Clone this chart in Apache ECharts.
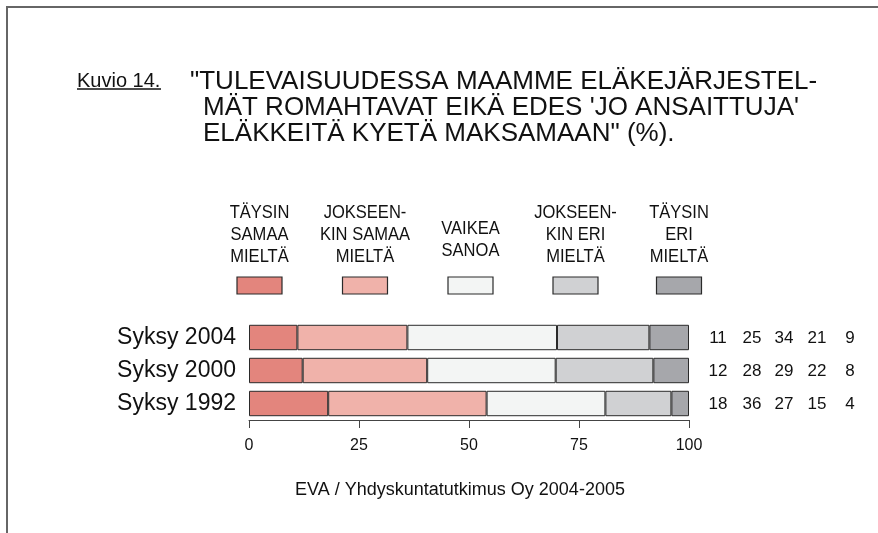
<!DOCTYPE html>
<html>
<head>
<meta charset="utf-8">
<script src="https://cdn.jsdelivr.net/npm/echarts@6/dist/echarts.min.js"></script>
<style>
  html, body { margin: 0; padding: 0; background: #fff; }
  #chart { width: 878px; height: 533px; }
</style>
</head>
<body>
<div id="chart"></div>
<script>
// vastausluokat (järjestys vasemmalta oikealle)
const categories = ['Syksy 1992', 'Syksy 2000', 'Syksy 2004'];
const answerNames = ['TÄYSIN\nSAMAA\nMIELTÄ', 'JOKSEEN-\nKIN SAMAA\nMIELTÄ', 'VAIKEA\nSANOA', 'JOKSEEN-\nKIN ERI\nMIELTÄ', 'TÄYSIN\nERI\nMIELTÄ'];
const colors = ['#e3857d', '#f0b2aa', '#f3f5f4', '#d0d1d3', '#a6a7ab'];

// palkkien osuudet (%), luettu kuvasta; järjestys 1992, 2000, 2004
const fullyAgree = [18, 12.2, 11];
const somewhatAgree = [36, 28.3, 25];
const hardToSay = [27, 29.2, 34];
const somewhatDisagree = [15, 22.2, 21];
const fullyDisagree = [4, 8.1, 9];

// oikean reunan numerot
const rowLabels = [
  ['18', '36', '27', '15', '4'],
  ['12', '28', '29', '22', '8'],
  ['11', '25', '34', '21', '9'],
];
const xTicks = [0, 25, 50, 75, 100];

const FONT = '"Liberation Sans", Arial, sans-serif';
const seriesData = [fullyAgree, somewhatAgree, hardToSay, somewhatDisagree, fullyDisagree];

const chart = echarts.init(document.getElementById('chart'), null, { renderer: 'canvas' });

const option = {
  animation: false,
  backgroundColor: '#fff',
  textStyle: { fontFamily: FONT },
  grid: { left: 249, right: 189, top: 321, height: 99 },
  xAxis: {
    type: 'value',
    min: xTicks[0],
    max: xTicks[xTicks.length - 1],
    interval: 25,
    axisLine: { show: true, lineStyle: { color: '#444', width: 1 } },
    axisTick: { show: true, length: 8, lineStyle: { color: '#444' } },
    axisLabel: { color: '#111', fontSize: 16, margin: 18, fontFamily: FONT },
    splitLine: { show: false },
  },
  yAxis: {
    type: 'category',
    data: categories,
    axisLine: { show: false },
    axisTick: { show: false },
    axisLabel: { color: '#111', fontSize: 23, margin: 13, fontFamily: FONT },
  },
  series: seriesData.map((d, i) => ({
    name: answerNames[i],
    type: 'bar',
    stack: 'total',
    data: d,
    barCategoryGap: '23%',
    itemStyle: { color: colors[i], borderColor: '#2a2a2a', borderWidth: 1 },
  })),
};
chart.setOption(option);

// otsikko, selitteet ja numerot
function buildGraphics() {
  const g = [];
  // kehys
  g.push({ type: 'polyline', shape: { points: [[7, 533], [7, 7], [878, 7]] }, style: { stroke: '#666', lineWidth: 2, fill: null } });
  // Kuvio 14.
  g.push({ type: 'text', x: 77, y: 81, style: { text: 'Kuvio 14.', font: '20px ' + FONT, fill: '#111', verticalAlign: 'middle' } });
  g.push({ type: 'line', shape: { x1: 77, y1: 89, x2: 161, y2: 89 }, style: { stroke: '#111', lineWidth: 1.5 } });
  const titleLines = [
    { t: '"TULEVAISUUDESSA MAAMME ELÄKEJÄRJESTEL-', x: 190, y: 82 },
    { t: "MÄT ROMAHTAVAT EIKÄ EDES 'JO ANSAITTUJA'", x: 203, y: 108 },
    { t: 'ELÄKKEITÄ KYETÄ MAKSAMAAN" (%).', x: 203, y: 134 },
  ];
  titleLines.forEach((l) => {
    g.push({ type: 'text', x: l.x, y: l.y, style: { text: l.t, font: '26px ' + FONT, fill: '#111', verticalAlign: 'middle' } });
  });
  // selitteet
  const legendX = [259.5, 365, 470.5, 575.5, 679];
  answerNames.forEach((n, i) => {
    const lines = n.split('\n').length;
    g.push({
      type: 'text', x: legendX[i], y: lines === 3 ? 235 : 240, scaleX: 0.87,
      style: { text: n, font: '19px ' + FONT, fill: '#111', align: 'center', verticalAlign: 'middle', lineHeight: 22 },
    });
    g.push({
      type: 'rect', shape: { x: legendX[i] - 22.5, y: 277, width: 45, height: 17 },
      style: { fill: colors[i], stroke: '#2a2a2a', lineWidth: 1.2 },
    });
  });
  // numerot oikealla
  const colX = [718, 752, 784, 817, 850];
  categories.forEach((c, r) => {
    const py = chart.convertToPixel({ yAxisIndex: 0 }, c);
    rowLabels[r].forEach((v, k) => {
      g.push({ type: 'text', x: colX[k], y: py + 1, style: { text: v, font: '17px ' + FONT, fill: '#111', align: 'center', verticalAlign: 'middle' } });
    });
  });
  // lähde
  g.push({ type: 'text', x: 460, y: 490, style: { text: 'EVA / Yhdyskuntatutkimus Oy 2004-2005', font: '18px ' + FONT, fill: '#111', align: 'center', verticalAlign: 'middle' } });
  return g;
}
chart.setOption({ graphic: buildGraphics() });
</script>
</body>
</html>
